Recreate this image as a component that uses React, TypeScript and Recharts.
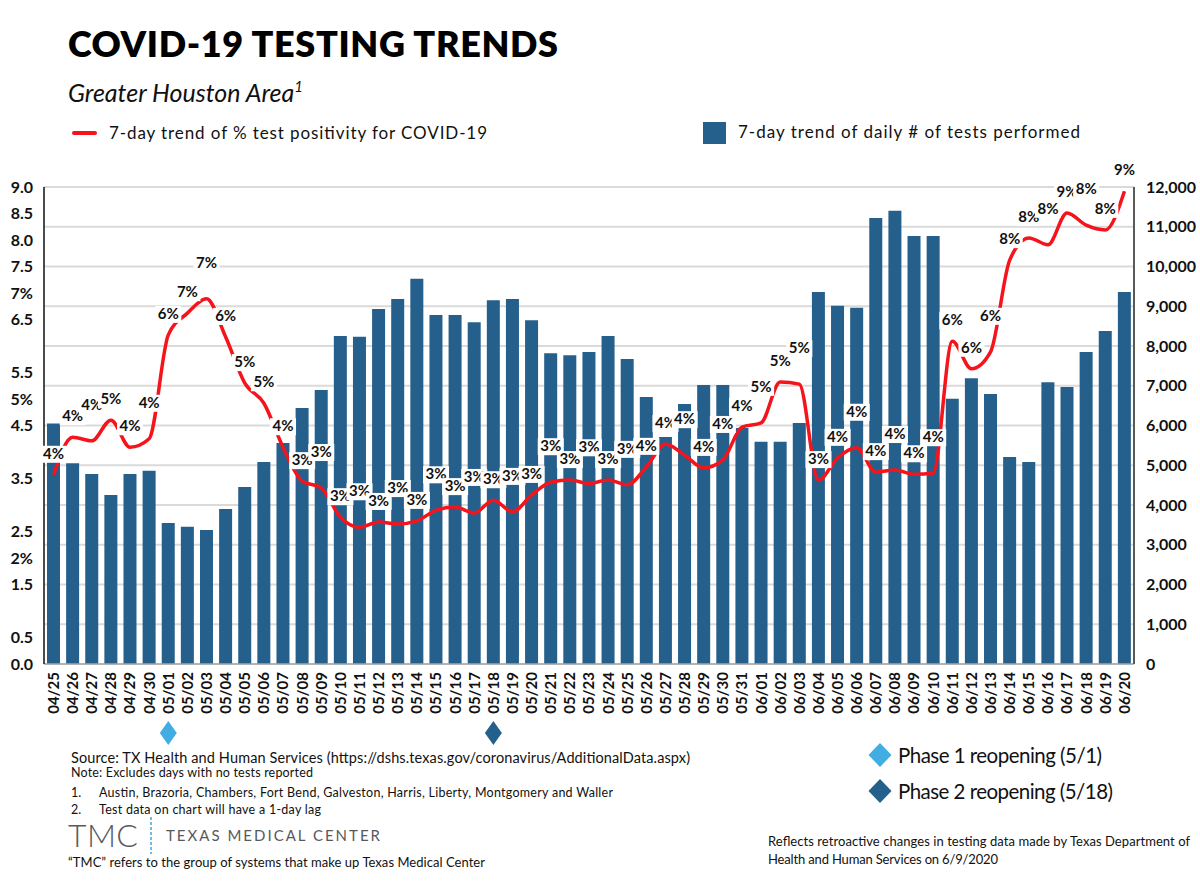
import {
  Bar,
  CartesianGrid,
  ComposedChart,
  LabelList,
  Line,
  XAxis,
  YAxis,
} from "recharts";

const dates = [
  "04/25", "04/26", "04/27", "04/28", "04/29", "04/30",
  "05/01", "05/02", "05/03", "05/04", "05/05", "05/06", "05/07", "05/08",
  "05/09", "05/10", "05/11", "05/12", "05/13", "05/14", "05/15", "05/16",
  "05/17", "05/18", "05/19", "05/20", "05/21", "05/22", "05/23", "05/24",
  "05/25", "05/26", "05/27", "05/28", "05/29", "05/30", "05/31",
  "06/01", "06/02", "06/03", "06/04", "06/05", "06/06", "06/07", "06/08",
  "06/09", "06/10", "06/11", "06/12", "06/13", "06/14", "06/15", "06/16",
  "06/17", "06/18", "06/19", "06/20",
];

// 7-day trend of daily tests performed
const tests = [
  6050, 5050, 4780, 4250, 4780, 4860,
  3550, 3450, 3370, 3900, 4450, 5080, 5560, 6440, 6890, 8250, 8230, 8930,
  9180, 9690, 8780, 8780, 8600, 9150, 9180, 8650, 7820, 7770, 7850, 8250,
  7670, 6720, 5710, 6540, 7020, 7020, 5940,
  5590, 5590, 6060, 9360, 9010, 8960, 11220, 11400, 10770, 10770, 6670,
  7190, 6790, 5210, 5080, 7090, 6970, 7850, 8380, 9360,
];

// 7-day trend of % positivity
const positivity = [
  3.57, 4.28, 4.21, 4.6, 4.09, 4.25,
  6.21, 6.62, 6.89, 6.17, 5.3, 4.92, 4.09, 3.45, 3.32, 2.77, 2.58, 2.68,
  2.64, 2.7, 2.9, 2.96, 2.85, 3.09, 2.87, 3.19, 3.43, 3.47, 3.41, 3.47,
  3.38, 3.72, 4.15, 3.94, 3.7, 3.85, 4.47,
  4.55, 5.32, 5.28, 3.47, 3.89, 4.08, 3.62, 3.66, 3.58, 3.6, 6.09, 5.57,
  5.89, 7.62, 8.04, 7.91, 8.51, 8.28, 8.19, 8.92,
];

const leftTicks = [0, 0.5, 1.5, 2, 2.5, 3.5, 4.5, 5, 5.5, 6.5, 7, 7.5, 8, 8.5, 9];
const percentTicks = [2, 5, 7];
const rightTicks = [
  0, 1000, 2000, 3000, 4000, 5000, 6000, 7000, 8000, 9000, 10000, 11000, 12000,
];

const phases = [
  { date: "05/01", label: "Phase 1 reopening (5/1)", color: "#41ade3" },
  { date: "05/18", label: "Phase 2 reopening (5/18)", color: "#24608c" },
];

const data = dates.map((date, i) => ({
  date,
  tests: tests[i],
  pct: positivity[i],
}));

const BLUE = "#255f8c";
const RED = "#f5141c";
const FONT = "Lato, 'Open Sans', sans-serif";

const formatLeft = (v: number) =>
  percentTicks.includes(v) ? `${v}%` : v.toFixed(1);

// labels that would sit on top of their left neighbour get lifted a step
const lifted: boolean[] = [];
positivity.forEach((v, i) => {
  const crowded = i > 0 && Math.abs(v - positivity[i - 1]) < 0.36;
  lifted.push(crowded && !lifted[i - 1]);
});

const DateTick = ({ x, y, payload }: any) => {
  const phase = phases.find((p) => p.date === payload.value);
  return (
    <g transform={`translate(${x},${y})`}>
      <text
        transform="rotate(-90)"
        textAnchor="end"
        dy="0.36em"
        fontSize={15}
        fontWeight={700}
        fill="#111"
        fontFamily={FONT}
      >
        {payload.value}
      </text>
      {phase && (
        <polygon points="0,49 8.5,61 0,73 -8.5,61" fill={phase.color} />
      )}
    </g>
  );
};

const PctLabel = (props: any) => {
  const { x, y, value, index } = props;
  if (x == null || y == null) return null;
  const top = y - (lifted[index] ? 44 : 29);
  return (
    <g>
      <rect x={x - 13} y={top} width={26} height={17} fill="#fff" />
      <text
        x={x}
        y={top + 13}
        textAnchor="middle"
        fontSize={15}
        fontWeight={700}
        fill="#111"
        fontFamily={FONT}
      >
        {`${Math.round(value)}%`}
      </text>
    </g>
  );
};

const TestingChart = () => (
  <ComposedChart
    width={1200}
    height={891}
    data={data}
    margin={{ top: 187, right: 0, bottom: 167, left: 0 }}
    barCategoryGap={3}
  >
    <CartesianGrid
      yAxisId="right"
      vertical={false}
      stroke="#dadada"
      strokeWidth={2}
    />
    <XAxis
      dataKey="date"
      interval={0}
      height={60}
      tick={<DateTick />}
      tickLine={false}
      axisLine={{ stroke: "#a6a6a6", strokeWidth: 1.5 }}
    />
    <YAxis
      yAxisId="left"
      width={44}
      domain={[0, 9]}
      ticks={leftTicks}
      interval={0}
      tickFormatter={formatLeft}
      tickLine={false}
      tickMargin={5}
      axisLine={{ stroke: "#111", strokeWidth: 1.5 }}
      tick={{ fontSize: 16, fontWeight: 700, fill: "#111", fontFamily: FONT }}
    />
    <YAxis
      yAxisId="right"
      orientation="right"
      width={66}
      domain={[0, 12000]}
      ticks={rightTicks}
      interval={0}
      tickFormatter={(v: number) => v.toLocaleString("en-US")}
      tickLine={false}
      tickMargin={6}
      axisLine={{ stroke: "#595959", strokeWidth: 2 }}
      tick={{ fontSize: 16, fontWeight: 700, fill: "#111", fontFamily: FONT, textAnchor: "start" }}
    />
    <Bar
      yAxisId="right"
      dataKey="tests"
      fill={BLUE}
      barSize={13}
      isAnimationActive={false}
    />
    <Line
      yAxisId="left"
      type="monotone"
      dataKey="pct"
      stroke={RED}
      strokeWidth={3.5}
      dot={false}
      isAnimationActive={false}
    >
      <LabelList dataKey="pct" content={<PctLabel />} />
    </Line>
  </ComposedChart>
);

const Notes = () => (
  <svg
    width={1200}
    height={891}
    style={{ position: "absolute", left: 0, top: 0, pointerEvents: "none" }}
    fontFamily={FONT}
  >
    <text x={68} y={57} fontSize={36} fontWeight={800} fill="#000" textLength={490}>
      COVID-19 TESTING TRENDS
    </text>
    <text x={68} y={102} fontSize={25} fontStyle="italic" fill="#111">
      Greater Houston Area
      <tspan fontSize={15} dy={-10}>1</tspan>
    </text>

    <line x1={74} x2={95} y1={133} y2={133} stroke={RED} strokeWidth={4} strokeLinecap="round" />
    <text x={109} y={139} fontSize={17} fill="#111" textLength={378}>
      7-day trend of % test positivity for COVID-19
    </text>
    <rect x={703} y={122} width={23} height={22} fill={BLUE} />
    <text x={738} y={138} fontSize={17} fill="#111" textLength={342}>
      7-day trend of daily # of tests performed
    </text>

    <text x={71} y={763} fontSize={14.5} fill="#111" textLength={619}>
      Source: TX Health and Human Services (https://dshs.texas.gov/coronavirus/AdditionalData.aspx)
    </text>
    <text x={71} y={777} fontSize={12.5} fill="#111" textLength={242}>
      Note: Excludes days with no tests reported
    </text>
    <text x={71} y={797} fontSize={12.5} fill="#111">1.</text>
    <text x={99} y={797} fontSize={12.5} fill="#111" textLength={514}>
      Austin, Brazoria, Chambers, Fort Bend, Galveston, Harris, Liberty, Montgomery and Waller
    </text>
    <text x={71} y={814} fontSize={12.5} fill="#111">2.</text>
    <text x={99} y={814} fontSize={12.5} fill="#111" textLength={222}>
      Test data on chart will have a 1-day lag
    </text>

    <text x={68} y={847} fontSize={32} fontWeight={300} fill="#58595b" textLength={70}>
      TMC
    </text>
    <line x1={151} x2={151} y1={817} y2={854} stroke="#4aa3d6" strokeWidth={1.5} strokeDasharray="3 2" />
    <text x={166} y={841} fontSize={15} fill="#58595b" textLength={214}>
      TEXAS MEDICAL CENTER
    </text>
    <text x={68} y={867} fontSize={13} fill="#111" textLength={417}>
      “TMC” refers to the group of systems that make up Texas Medical Center
    </text>

    {phases.map((p, i) => {
      const cy = 755 + i * 36;
      return (
        <g key={p.date}>
          <polygon
            points={`880,${cy - 12} 891.5,${cy} 880,${cy + 12} 868.5,${cy}`}
            fill={p.color}
          />
          <text x={898} y={cy + 8} fontSize={20.5} fill="#111" textLength={i === 0 ? 204 : 215}>
            {p.label}
          </text>
        </g>
      );
    })}

    <text x={768} y={846} fontSize={13} fill="#111" textLength={422}>
      Reflects retroactive changes in testing data made by Texas Department of
    </text>
    <text x={768} y={864} fontSize={13} fill="#111" textLength={230}>
      Health and Human Services on 6/9/2020
    </text>
  </svg>
);

export default function App() {
  return (
    <div
      style={{
        position: "absolute",
        left: 0,
        top: 0,
        width: 1200,
        height: 891,
        background: "#fff",
        fontFamily: FONT,
      }}
    >
      <TestingChart />
      <Notes />
    </div>
  );
}
